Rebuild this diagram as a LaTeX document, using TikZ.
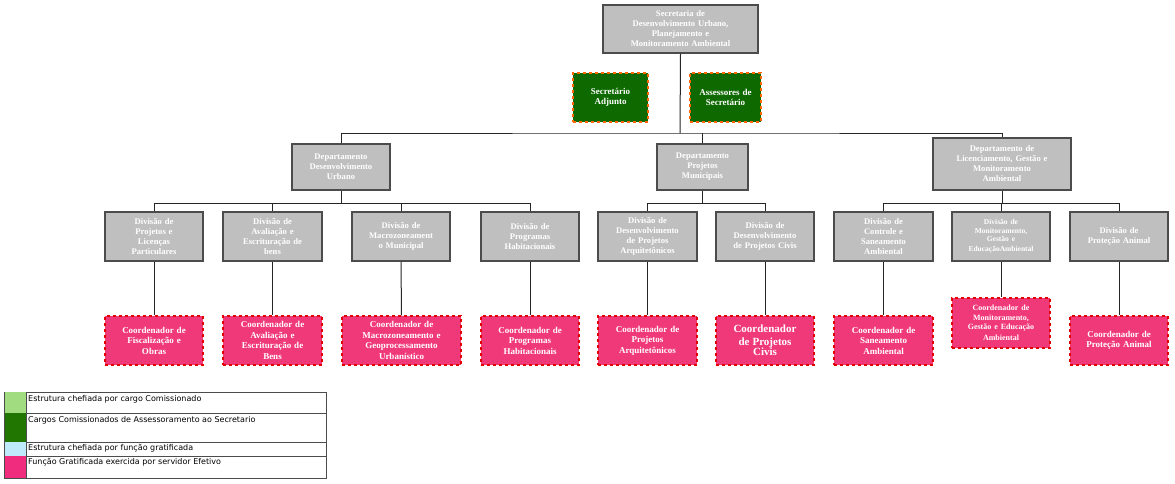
\documentclass[tikz,border=0pt]{standalone}
\usepackage{fontspec}
\setmainfont{Liberation Serif}
\newfontfamily\legfont{DejaVu Sans}
\begin{document}
\begin{tikzpicture}[x=1pt,y=-1pt,
 gbox/.style={draw=black!70,line width=1.6pt,fill=black!25,text=white,font=\fontsize{8.6}{10}\selectfont\bfseries,align=center,inner sep=1pt},
 pbox/.style={draw=red!90!black,dashed,line width=1.4pt,fill=magenta!60!red!80!white,text=white,font=\fontsize{9}{10.5}\selectfont\bfseries,align=center,inner sep=1pt},
 dbox/.style={draw=orange!80!red,dashed,line width=1.4pt,fill=green!40!black!90!olive,text=white,font=\fontsize{9}{10.5}\selectfont\bfseries,align=center,inner sep=1pt},
 ln/.style={line width=1pt,black!85}]
\useasboundingbox (0,0) rectangle (1175,483);
\newcommand\bx[6]{\node[#1,minimum width=#4-#2,minimum height=#5-#3,text width=#4-#2-2] (#6) at ({(#2+#4)/2},{(#3+#5)/2})}
\bx{gbox}{603}{5}{758}{53}{top}{Secretaria de\\Desenvolvimento Urbano,\\Planejamento e\\Monitoramento Ambiental};
\bx{dbox}{573}{73}{648}{122}{sa}{Secretário\\Adjunto};
\bx{dbox}{690}{73}{761}{122}{as}{Assessores de\\Secretário};
\bx{gbox}{292}{144}{390}{190}{d1}{Departamento\\Desenvolvimento\\Urbano};
\bx{gbox}{657}{144}{748}{190}{d2}{Departamento\\Projetos\\Municipais};
\bx{gbox}{933}{138}{1071}{190}{d3}{Departamento de\\Licenciamento, Gestão e\\Monitoramento\\Ambiental};
\bx{gbox}{105}{212}{203}{261}{v1}{Divisão de\\Projetos e\\Licenças\\Particulares};
\bx{gbox}{223}{212}{322}{261}{v2}{Divisão de\\Avaliação e\\Escrituração de\\bens};
\bx{gbox}{352}{212}{450}{261}{v3}{Divisão de\\Macrozoneament\\o Municipal};
\bx{gbox}{481}{212}{579}{261}{v4}{Divisão de\\Programas\\Habitacionais};
\bx{gbox}{598}{212}{697}{261}{v5}{Divisão de\\Desenvolvimento\\de Projetos\\Arquitetônicos};
\bx{gbox}{716}{212}{814}{261}{v6}{Divisão de\\Desenvolvimento\\de Projetos Civis};
\bx{gbox}{834}{212}{933}{261}{v7}{Divisão de\\Controle e\\Saneamento\\Ambiental};
\bx{gbox}{952}{212}{1050}{261}{v8}{\fontsize{7.5}{8.5}\selectfont Divisão de\\Monitoramento,\\Gestão e\\EducaçãoAmbiental};
\bx{gbox}{1070}{212}{1168}{261}{v9}{Divisão de\\Proteção Animal};
\bx{pbox}{105}{316}{203}{365}{c1}{Coordenador de\\Fiscalização e\\Obras};
\bx{pbox}{223}{316}{322}{365}{c2}{Coordenador de\\Avaliação e\\Escrituração de\\Bens};
\bx{pbox}{342}{316}{461}{365}{c3}{Coordenador de\\Macrozoneamento e\\Geoprocessamento\\Urbanístico};
\bx{pbox}{481}{316}{579}{365}{c4}{Coordenador de\\Programas\\Habitacionais};
\bx{pbox}{598}{316}{697}{365}{c5}{Coordenador de\\Projetos\\Arquitetônicos};
\bx{pbox}{716}{316}{814}{365}{c6}{\fontsize{11}{12.5}\selectfont Coordenador\\de Projetos\\Civis};
\bx{pbox}{834}{316}{933}{365}{c7}{Coordenador de\\Saneamento\\Ambiental};
\bx{pbox}{952}{298}{1050}{348}{c8}{\fontsize{8}{9.5}\selectfont Coordenador de\\Monitoramento,\\Gestão e Educação\\Ambiental};
\bx{pbox}{1070}{316}{1168}{365}{c9}{Coordenador de\\Proteção Animal};
\coordinate (b) at (680,133);
\draw[ln] (top.south) -- (b);
\draw[ln] (d1.north) |- (b) -| (d3.north);
\draw[ln] (d2.north) -- (d2.north |- b);
\draw[ln] (d1.south) -- ++(0,13) coordinate (b1);
\draw[ln] (v1.north) |- (b1) -| (v4.north);
\draw[ln] (v2.north) -- (v2.north |- b1);
\draw[ln] (v3.north) -- (v3.north |- b1);
\draw[ln] (d2.south) -- ++(0,13) coordinate (b2);
\draw[ln] (v5.north) |- (b2) -| (v6.north);
\draw[ln] (d3.south) -- ++(0,13) coordinate (b3);
\draw[ln] (v7.north) |- (b3) -| (v9.north);
\draw[ln] (v8.north) -- (v8.north |- b3);
\foreach \i in {1,...,9}{\draw[ln] (v\i.south) -- (c\i.north);}
% legend
\draw[black!70] (4,392) rectangle (326,478);
\foreach \ya/\yb/\c in {392/413/green!45!olive!50!white,413/442/green!45!black!75!olive,442/456/cyan!25!white,456/478/magenta!70!red!85!white}{
 \fill[\c] (4.5,\ya) rectangle (25.5,\yb);
 \draw[black!70] (4,\yb) -- (326,\yb);}
\draw[black!70] (26,392) -- (26,478);
\begin{scope}[every node/.style={anchor=north west,inner sep=0pt,font=\legfont\fontsize{8}{10}\selectfont}]
\node (l1) at (28,395) {Estrutura chefiada por cargo Comissionado};
\node[text width=296pt,align=justify] (l2) at (28,416) {Cargos Comissionados de Assessoramento ao Secretario};
\node (l3) at (28,444) {Estrutura chefiada por função gratificada};
\node (l4) at (28,458) {Função Gratificada exercida por servidor Efetivo};
\end{scope}
\end{tikzpicture}
\end{document}
